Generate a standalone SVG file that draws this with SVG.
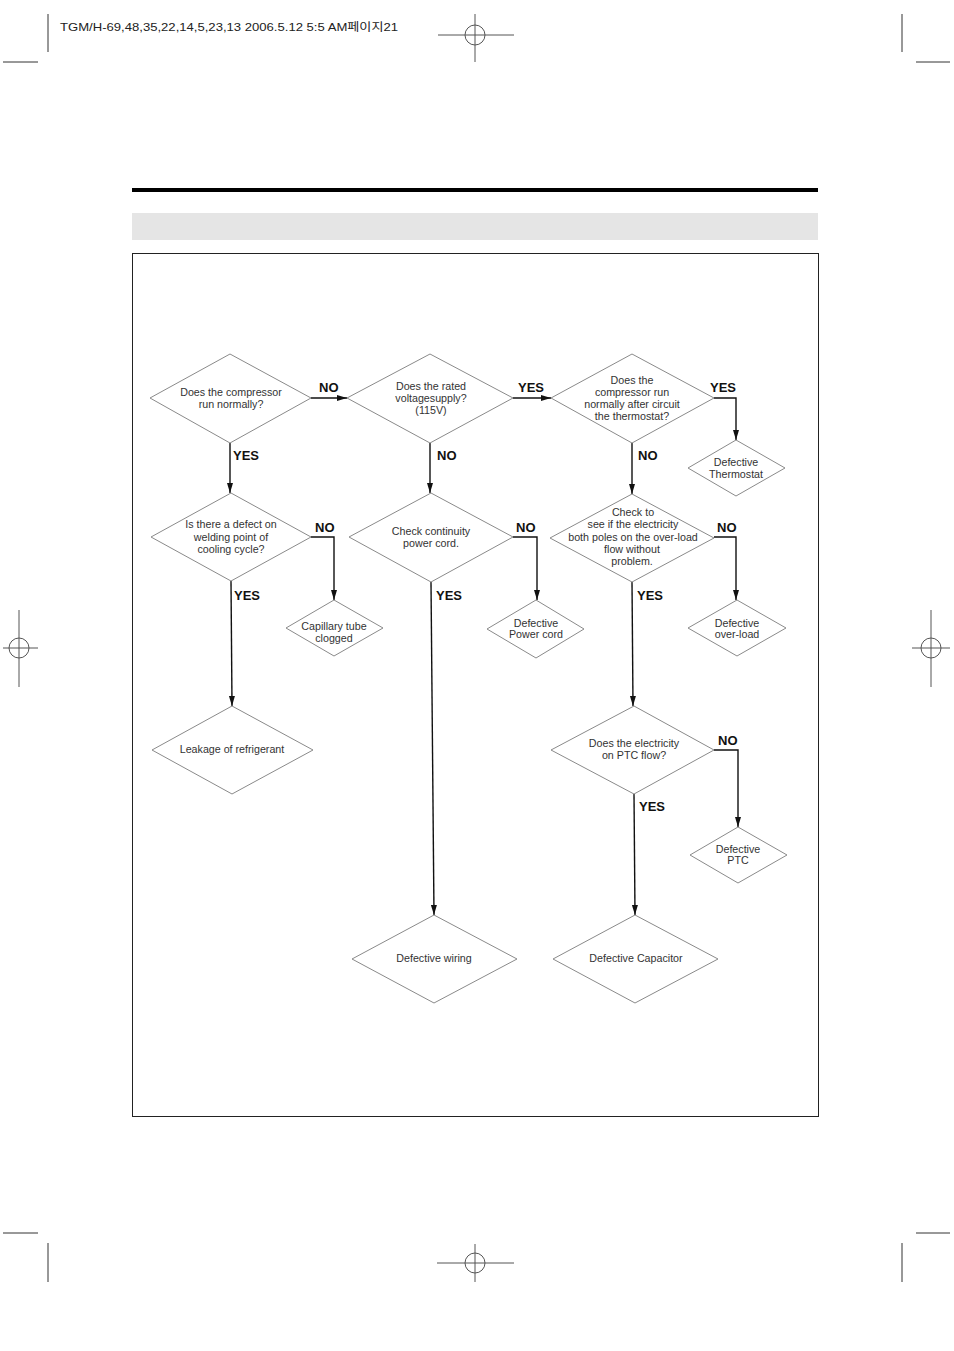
<svg xmlns="http://www.w3.org/2000/svg" width="954" height="1351" viewBox="0 0 954 1351">
<style>
.crop{stroke:#333;stroke-width:1;fill:none}
.reg{stroke:#555;stroke-width:1;fill:none}
.dia{fill:#fff;stroke:#8a8a8a;stroke-width:1}
.t{font-family:"Liberation Sans",Arial,sans-serif;font-size:10.7px;fill:#333;text-anchor:middle}
.lbl{font-family:"Liberation Sans",Arial,sans-serif;font-size:13px;font-weight:bold;fill:#111}
.con{stroke:#111;stroke-width:1.4;fill:none;marker-end:url(#ah)}
</style>
<defs>
<marker id="ah" viewBox="0 0 10 10" refX="10" refY="5" markerWidth="10" markerHeight="10" markerUnits="userSpaceOnUse" orient="auto">
<path d="M0,2 L10,5 L0,8 Z" fill="#111"/>
</marker>
</defs>
<rect width="954" height="1351" fill="#fff"/>
<g id="printmarks">
<line class="crop" x1="48" y1="14" x2="48" y2="52"/>
<line class="crop" x1="3" y1="62" x2="38" y2="62"/>
<line class="crop" x1="902" y1="14" x2="902" y2="52"/>
<line class="crop" x1="916" y1="62" x2="950" y2="62"/>
<line class="crop" x1="3" y1="1233" x2="38" y2="1233"/>
<line class="crop" x1="916" y1="1233" x2="950" y2="1233"/>
<line class="crop" x1="48" y1="1243" x2="48" y2="1282"/>
<line class="crop" x1="902" y1="1243" x2="902" y2="1282"/>
<line class="reg" x1="438" y1="35" x2="514" y2="35"/><line class="reg" x1="475" y1="14" x2="475" y2="62"/><circle class="reg" cx="475" cy="35" r="10"/>
<line class="reg" x1="437" y1="1263" x2="514" y2="1263"/><line class="reg" x1="475" y1="1244" x2="475" y2="1282"/><circle class="reg" cx="475" cy="1263" r="10"/>
<line class="reg" x1="3" y1="648" x2="38" y2="648"/><line class="reg" x1="19" y1="610" x2="19" y2="687"/><circle class="reg" cx="19" cy="648" r="10"/>
<line class="reg" x1="912" y1="648" x2="950" y2="648"/><line class="reg" x1="931" y1="610" x2="931" y2="687"/><circle class="reg" cx="931" cy="648" r="10"/>
<text x="60" y="31" textLength="338" lengthAdjust="spacingAndGlyphs" style="font-family:'Liberation Sans','Noto Sans CJK KR',sans-serif;font-size:11px;fill:#222">TGM/H-69,48,35,22,14,5,23,13  2006.5.12 5:5 AM페이지21</text>
</g>
<g id="page">
<rect x="132" y="188" width="686" height="4" fill="#000"/>
<rect x="132" y="213" width="686" height="27" fill="#e5e5e5"/>
<rect x="132.5" y="253.5" width="686" height="863" fill="none" stroke="#222" stroke-width="1"/>
</g>
<g id="connectors">
<line class="con" x1="311" y1="398" x2="347" y2="398"/>
<line class="con" x1="513" y1="398" x2="551" y2="398"/>
<polyline class="con" points="714,398 736,398 736,440"/>
<line class="con" x1="230" y1="443" x2="230" y2="493"/>
<line class="con" x1="430" y1="443" x2="430" y2="493"/>
<line class="con" x1="632" y1="443" x2="632" y2="494"/>
<polyline class="con" points="311,537 334,537 334,600"/>
<line class="con" x1="231" y1="581" x2="232" y2="706"/>
<polyline class="con" points="513,537 537,537 537,600"/>
<line class="con" x1="431" y1="582" x2="434" y2="915"/>
<polyline class="con" points="714,537 736,537 736,600"/>
<line class="con" x1="632" y1="582" x2="633" y2="706"/>
<polyline class="con" points="714,750 738,750 738,827"/>
<line class="con" x1="634" y1="794" x2="635" y2="915"/>
<text class="lbl" x="319" y="392">NO</text>
<text class="lbl" x="518" y="392">YES</text>
<text class="lbl" x="710" y="392">YES</text>
<text class="lbl" x="233" y="460">YES</text>
<text class="lbl" x="437" y="460">NO</text>
<text class="lbl" x="638" y="460">NO</text>
<text class="lbl" x="315" y="532">NO</text>
<text class="lbl" x="234" y="600">YES</text>
<text class="lbl" x="516" y="532">NO</text>
<text class="lbl" x="436" y="600">YES</text>
<text class="lbl" x="717" y="532">NO</text>
<text class="lbl" x="637" y="600">YES</text>
<text class="lbl" x="718" y="745">NO</text>
<text class="lbl" x="639" y="811">YES</text>
</g>
<g id="d1"><polygon class="dia" points="230,354 311,398 230,443 150,398"/>
<text class="t" x="231" y="396">Does the compressor</text><text class="t" x="231" y="408">run normally?</text></g>
<g id="d2"><polygon class="dia" points="430,354 513,398 430,443 347,398"/>
<text class="t" x="431" y="390">Does the rated</text><text class="t" x="431" y="402">voltagesupply?</text><text class="t" x="431" y="414">(115V)</text></g>
<g id="d3"><polygon class="dia" points="632,354 714,398 632,443 551,398"/>
<text class="t" x="632" y="384">Does the</text><text class="t" x="632" y="396">compressor run</text><text class="t" x="632" y="408">normally after circuit</text><text class="t" x="632" y="420">the thermostat?</text></g>
<g id="r_thermostat"><polygon class="dia" points="736,440 785,468 736,496 688,468"/>
<text class="t" x="736" y="466">Defective</text><text class="t" x="736" y="478">Thermostat</text></g>
<g id="d4"><polygon class="dia" points="231,493 311,537 231,581 151,537"/>
<text class="t" x="231" y="528">Is there a defect on</text><text class="t" x="231" y="541">welding point of</text><text class="t" x="231" y="553">cooling cycle?</text></g>
<g id="r_capillary"><polygon class="dia" points="334,600 383,628 334,656 286,628"/>
<text class="t" x="334" y="630">Capillary tube</text><text class="t" x="334" y="642">clogged</text></g>
<g id="r_leakage"><polygon class="dia" points="232,706 313,750 232,794 152,750"/>
<text class="t" x="232" y="753">Leakage of refrigerant</text></g>
<g id="d5"><polygon class="dia" points="431,493 513,537 431,582 349,537"/>
<text class="t" x="431" y="535">Check continuity</text><text class="t" x="431" y="547">power cord.</text></g>
<g id="r_powercord"><polygon class="dia" points="536,600 584,629 536,658 487,629"/>
<text class="t" x="536" y="627">Defective</text><text class="t" x="536" y="638">Power cord</text></g>
<g id="r_wiring"><polygon class="dia" points="434,915 517,959 434,1003 352,959"/>
<text class="t" x="434" y="962">Defective wiring</text></g>
<g id="d6"><polygon class="dia" points="632,494 714,538 632,582 550,538"/>
<text class="t" x="633" y="516">Check to</text><text class="t" x="633" y="528">see if the electricity</text><text class="t" x="633" y="541">both poles on the over-load</text><text class="t" x="632" y="553">flow without</text><text class="t" x="632" y="565">problem.</text></g>
<g id="r_overload"><polygon class="dia" points="737,600 786,628 737,656 688,628"/>
<text class="t" x="737" y="627">Defective</text><text class="t" x="737" y="638">over-load</text></g>
<g id="d7"><polygon class="dia" points="634,706 714,750 634,794 551,750"/>
<text class="t" x="634" y="747">Does the electricity</text><text class="t" x="634" y="759">on PTC flow?</text></g>
<g id="r_ptc"><polygon class="dia" points="738,827 787,855 738,883 690,855"/>
<text class="t" x="738" y="853">Defective</text><text class="t" x="738" y="864">PTC</text></g>
<g id="r_capacitor"><polygon class="dia" points="635,915 718,959 635,1003 553,959"/>
<text class="t" x="636" y="962">Defective Capacitor</text></g>
</svg>
